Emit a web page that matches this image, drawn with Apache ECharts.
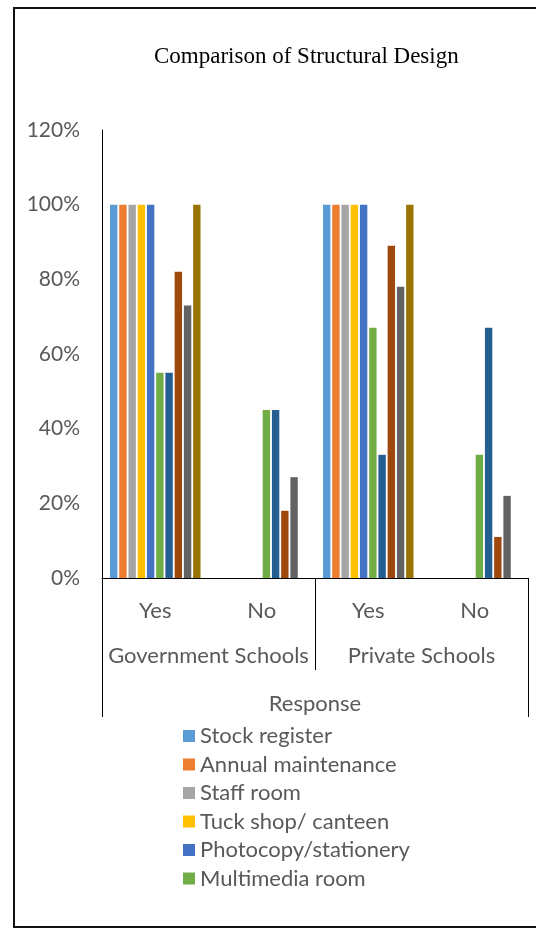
<!DOCTYPE html>
<html>
<head>
<meta charset="utf-8">
<title>Comparison of Structural Design</title>
<script src="https://cdn.jsdelivr.net/npm/echarts@6/dist/echarts.min.js"></script>
<style>
  html, body { margin: 0; padding: 0; background: #fff; }
  #chart { width: 536px; height: 929px; }
</style>
</head>
<body>
<div id="chart"></div>
<script>
// Responses (share of schools) per facility, grouped by school type
const responses = ['Yes', 'No', 'Yes', 'No'];
const schoolTypes = ['Government Schools', 'Private Schools'];
const axisTitle = ['Response'];
const yTicks = [0, 0.2, 0.4, 0.6, 0.8, 1.0, 1.2];

const facilities = [
  'Stock register',
  'Annual maintenance',
  'Staff room',
  'Tuck shop/ canteen',
  'Photocopy/stationery',
  'Multimedia room',
  'Facility 7',
  'Facility 8',
  'Facility 9',
  'Facility 10'
];
const legendShown = facilities.slice(0, 6);

// values in %, order: Gov Yes, Gov No, Private Yes, Private No
const stockRegister     = [100, 0, 100, 0];
const annualMaintenance = [100, 0, 100, 0];
const staffRoom         = [100, 0, 100, 0];
const tuckShop          = [100, 0, 100, 0];
const photocopy         = [100, 0, 100, 0];
const multimediaRoom    = [55, 45, 67, 33];
const facility7         = [55, 45, 33, 67];
const facility8         = [82, 18, 89, 11];
const facility9         = [73, 27, 78, 22];
const facility10        = [100, 0, 100, 0];

const seriesValues = [stockRegister, annualMaintenance, staffRoom, tuckShop, photocopy,
  multimediaRoom, facility7, facility8, facility9, facility10];

const palette = ['#5B9BD5', '#ED7D31', '#A5A5A5', '#FFC000', '#4472C4',
  '#70AD47', '#255E91', '#9E480E', '#636363', '#997300'];

const labelFont = 'Lato, "Open Sans", sans-serif';
const labelColor = '#595959';

const chart = echarts.init(document.getElementById('chart'), null, { renderer: 'canvas' });

chart.setOption({
  animation: false,
  color: palette,
  title: {
    text: 'Comparison of Structural Design',
    left: 149,
    top: 40,
    textStyle: {
      fontFamily: '"Liberation Serif", "Times New Roman", serif',
      fontWeight: 'normal',
      fontSize: 23,
      color: '#000'
    }
  },
  graphic: [{
    type: 'rect',
    shape: { x: 14, y: 8, width: 560, height: 919 },
    style: { fill: 'none', stroke: '#111', lineWidth: 2 },
    silent: true,
    z: 100
  }],
  legend: {
    orient: 'vertical',
    left: 178,
    top: 720,
    data: legendShown,
    icon: 'rect',
    itemWidth: 12,
    itemHeight: 12,
    itemGap: 6.5,
    textStyle: { fontFamily: labelFont, fontSize: 22, color: labelColor }
  },
  grid: { left: 102, right: 8, top: 130, bottom: 351, containLabel: false },
  xAxis: [
    {
      type: 'category',
      data: responses,
      position: 'bottom',
      axisLine: { show: true, lineStyle: { color: '#000', width: 1 } },
      axisTick: { show: false },
      axisLabel: { margin: 22, fontFamily: labelFont, fontSize: 22, color: labelColor, interval: 0 }
    },
    {
      type: 'category',
      data: schoolTypes,
      position: 'bottom',
      axisLine: { show: false },
      axisTick: { show: true, length: 92, interval: 0, lineStyle: { color: '#000', width: 1 } },
      axisLabel: { margin: 67, fontFamily: labelFont, fontSize: 22, color: labelColor, interval: 0 }
    },
    {
      type: 'category',
      data: axisTitle,
      position: 'bottom',
      axisLine: { show: false },
      axisTick: { show: true, length: 139, interval: 0, lineStyle: { color: '#000', width: 1 } },
      axisLabel: { margin: 115, fontFamily: labelFont, fontSize: 22, color: labelColor }
    }
  ],
  yAxis: {
    type: 'value',
    min: yTicks[0],
    max: yTicks[yTicks.length - 1],
    interval: yTicks[1] - yTicks[0],
    axisLine: { show: true, lineStyle: { color: '#000', width: 1 } },
    axisTick: { show: false },
    splitLine: { show: false },
    axisLabel: {
      margin: 22,
      fontFamily: labelFont,
      fontSize: 21,
      color: labelColor,
      formatter: v => Math.round(v * 100) + '%'
    }
  },
  series: facilities.map((name, i) => ({
    name,
    type: 'bar',
    xAxisIndex: 0,
    barGap: '25%',
    barCategoryGap: '15%',
    data: seriesValues[i].map(v => v / 100)
  }))
});
</script>
</body>
</html>
